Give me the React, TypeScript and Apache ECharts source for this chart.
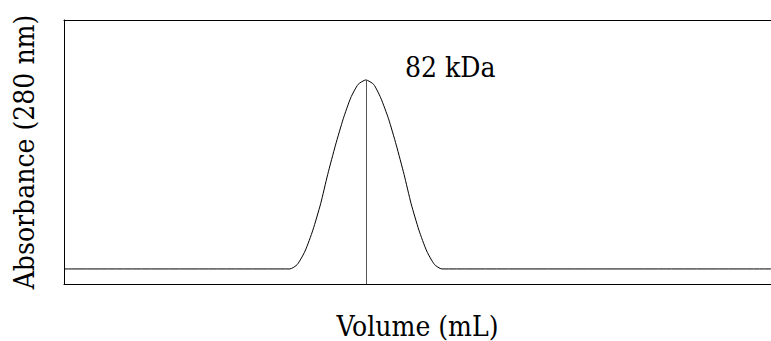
import React, { useEffect, useRef } from "react";
import * as echarts from "echarts";

const xValues = [0, 31.95, 33.0, 34.1, 35.2, 36.3, 37.3, 38.4, 39.5, 40.55, 41.6, 42.7, 43.8, 44.8, 45.9, 47.0, 48.1, 49.1, 50.2, 51.3, 52.4, 53.45, 100];
const yValues = [5.7, 5.7, 7.4, 12.5, 20.4, 30.4, 41.5, 52.6, 62.6, 70.5, 75.6, 77.3, 75.6, 70.5, 62.6, 52.6, 41.5, 30.4, 20.4, 12.5, 7.4, 5.7, 5.7];
const peakX = 42.7;
const peakY = 77.3;
const peakLabel = "82 kDa";
const xAxisTitle = "Volume (mL)";
const yAxisTitle = "Absorbance (280 nm)";

const FONT = "DejaVu Serif Condensed";

export default function App() {
  const ref = useRef<HTMLDivElement>(null);
  useEffect(() => {
    if (!ref.current) return;
    const chart = echarts.init(ref.current, null, { renderer: "svg" });
    const data = xValues.map((x, i) => [x, yValues[i]]);
    chart.setOption({
      animation: false,
      backgroundColor: "#ffffff",
      grid: { left: 64, top: 20, right: 0, bottom: 57, containLabel: false, outerBoundsMode: "none" },
      xAxis: [
        {
          type: "value",
          min: 0,
          max: 100,
          position: "bottom",
          name: xAxisTitle,
          nameLocation: "middle",
          nameGap: 30,
          nameTextStyle: { fontFamily: FONT, fontSize: 28, lineHeight: 24, color: "#000" },
          axisLine: { show: true, onZero: false, lineStyle: { color: "#000", width: 1 } },
          axisTick: { show: false },
          axisLabel: { show: false },
          splitLine: { show: false },
        },
        {
          type: "value",
          min: 0,
          max: 100,
          position: "top",
          axisLine: { show: true, onZero: false, lineStyle: { color: "#000", width: 1 } },
          axisTick: { show: false },
          axisLabel: { show: false },
          splitLine: { show: false },
        },
      ],
      yAxis: {
        type: "value",
        min: 0,
        max: 100,
        name: yAxisTitle,
        nameLocation: "middle",
        nameGap: 26,
        nameTextStyle: { fontFamily: FONT, fontSize: 28, color: "#000" },
        axisLine: { show: true, onZero: false, lineStyle: { color: "#000", width: 1 } },
        axisTick: { show: false },
        axisLabel: { show: false },
        splitLine: { show: false },
      },
      series: [
        {
          type: "line",
          data,
          smooth: 0.2,
          showSymbol: false,
          symbol: "none",
          lineStyle: { color: "#000", width: 1 },
          markLine: {
            silent: true,
            symbol: "none",
            label: { show: false },
            lineStyle: { color: "#555", width: 1, type: "solid" },
            data: [[{ coord: [peakX, 0] }, { coord: [peakX, peakY] }]],
          },
          markPoint: {
            silent: true,
            symbol: "circle",
            symbolSize: 0,
            data: [{ coord: [peakX, peakY] }],
            label: {
              show: true,
              formatter: peakLabel,
              position: "right",
              distance: 0,
              offset: [39, -12],
              fontFamily: FONT,
              fontSize: 28,
              color: "#000",
            },
          },
        },
      ],
    });
    return () => chart.dispose();
  }, []);
  return (
    <div
      ref={ref}
      style={{ position: "fixed", left: 0, top: 0, width: 771, height: 341, background: "#fff" }}
    />
  );
}
